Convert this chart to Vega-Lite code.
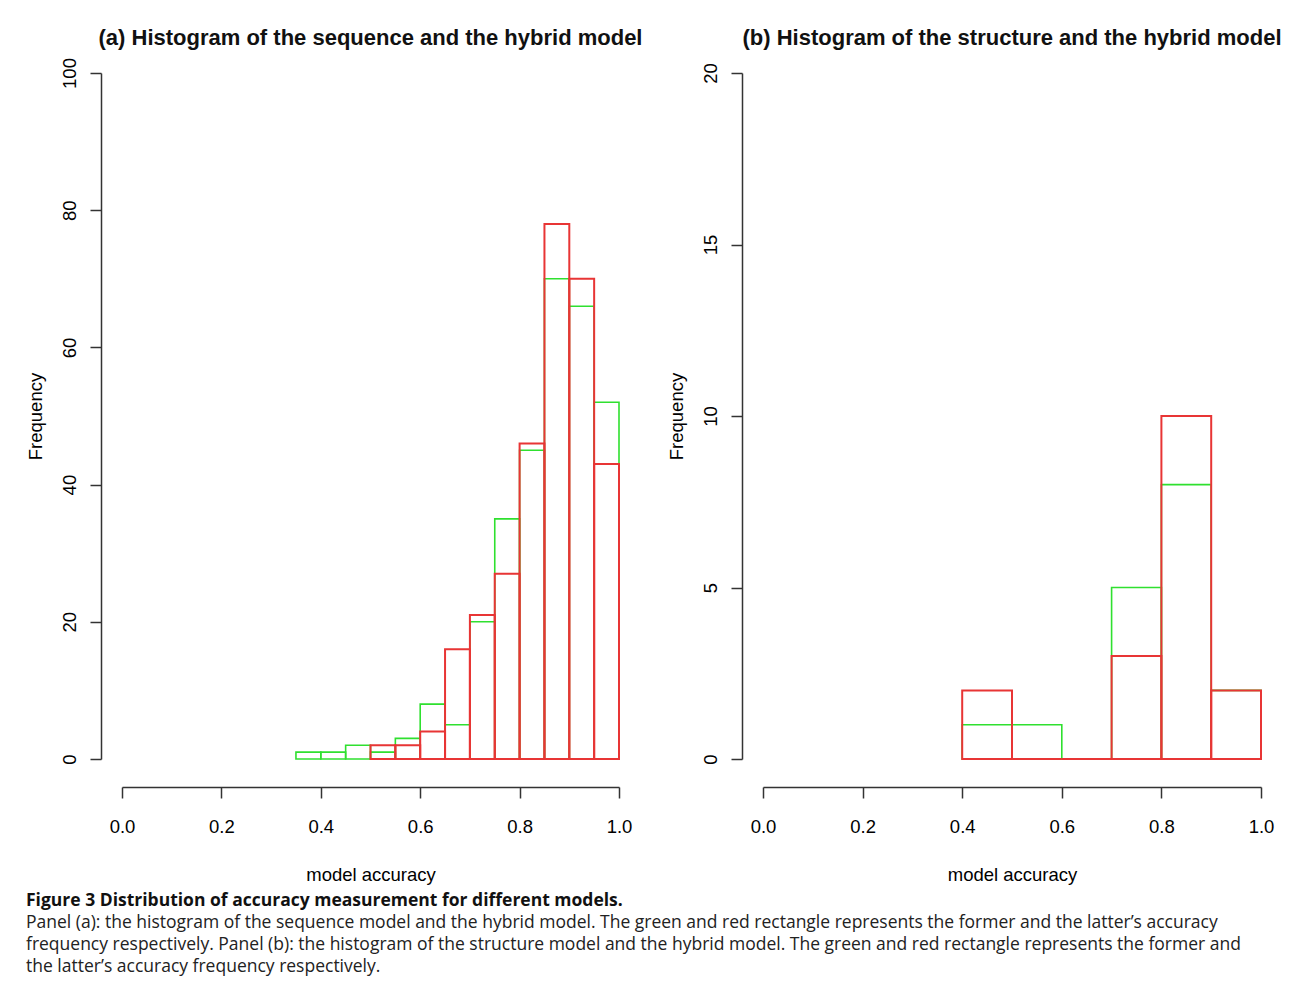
{
  "$schema": "https://vega.github.io/schema/vega-lite/v6.json",
  "background": "white",
  "padding": {"left": 26, "top": 26, "right": 5, "bottom": 2},
  "datasets": {
    "panelA": [
      {"model": "sequence", "bin_start": 0.35, "bin_end": 0.40, "count": 1},
      {"model": "sequence", "bin_start": 0.40, "bin_end": 0.45, "count": 1},
      {"model": "sequence", "bin_start": 0.45, "bin_end": 0.50, "count": 2},
      {"model": "sequence", "bin_start": 0.50, "bin_end": 0.55, "count": 1},
      {"model": "sequence", "bin_start": 0.55, "bin_end": 0.60, "count": 3},
      {"model": "sequence", "bin_start": 0.60, "bin_end": 0.65, "count": 8},
      {"model": "sequence", "bin_start": 0.65, "bin_end": 0.70, "count": 5},
      {"model": "sequence", "bin_start": 0.70, "bin_end": 0.75, "count": 20},
      {"model": "sequence", "bin_start": 0.75, "bin_end": 0.80, "count": 35},
      {"model": "sequence", "bin_start": 0.80, "bin_end": 0.85, "count": 45},
      {"model": "sequence", "bin_start": 0.85, "bin_end": 0.90, "count": 70},
      {"model": "sequence", "bin_start": 0.90, "bin_end": 0.95, "count": 66},
      {"model": "sequence", "bin_start": 0.95, "bin_end": 1.00, "count": 52},
      {"model": "hybrid", "bin_start": 0.50, "bin_end": 0.55, "count": 2},
      {"model": "hybrid", "bin_start": 0.55, "bin_end": 0.60, "count": 2},
      {"model": "hybrid", "bin_start": 0.60, "bin_end": 0.65, "count": 4},
      {"model": "hybrid", "bin_start": 0.65, "bin_end": 0.70, "count": 16},
      {"model": "hybrid", "bin_start": 0.70, "bin_end": 0.75, "count": 21},
      {"model": "hybrid", "bin_start": 0.75, "bin_end": 0.80, "count": 27},
      {"model": "hybrid", "bin_start": 0.80, "bin_end": 0.85, "count": 46},
      {"model": "hybrid", "bin_start": 0.85, "bin_end": 0.90, "count": 78},
      {"model": "hybrid", "bin_start": 0.90, "bin_end": 0.95, "count": 70},
      {"model": "hybrid", "bin_start": 0.95, "bin_end": 1.00, "count": 43}
    ],
    "panelB": [
      {"model": "structure", "bin_start": 0.4, "bin_end": 0.5, "count": 1},
      {"model": "structure", "bin_start": 0.5, "bin_end": 0.6, "count": 1},
      {"model": "structure", "bin_start": 0.6, "bin_end": 0.7, "count": 0},
      {"model": "structure", "bin_start": 0.7, "bin_end": 0.8, "count": 5},
      {"model": "structure", "bin_start": 0.8, "bin_end": 0.9, "count": 8},
      {"model": "structure", "bin_start": 0.9, "bin_end": 1.0, "count": 2},
      {"model": "hybrid", "bin_start": 0.4, "bin_end": 0.5, "count": 2},
      {"model": "hybrid", "bin_start": 0.5, "bin_end": 0.6, "count": 0},
      {"model": "hybrid", "bin_start": 0.6, "bin_end": 0.7, "count": 0},
      {"model": "hybrid", "bin_start": 0.7, "bin_end": 0.8, "count": 3},
      {"model": "hybrid", "bin_start": 0.8, "bin_end": 0.9, "count": 10},
      {"model": "hybrid", "bin_start": 0.9, "bin_end": 1.0, "count": 2}
    ]
  },
  "title": {
    "text": "Figure 3 Distribution of accuracy measurement for different models.",
    "subtitle": [
      "Panel (a): the histogram of the sequence model and the hybrid model. The green and red rectangle represents the former and the latter’s accuracy",
      "frequency respectively. Panel (b): the histogram of the structure model and the hybrid model. The green and red rectangle represents the former and",
      "the latter’s accuracy frequency respectively."
    ],
    "orient": "bottom",
    "anchor": "start",
    "frame": "bounds",
    "offset": 8,
    "font": "Open Sans",
    "fontSize": 17.5,
    "fontWeight": "bold",
    "color": "#111111",
    "subtitleFont": "Open Sans",
    "subtitleFontSize": 17.5,
    "subtitleFontWeight": "normal",
    "subtitleColor": "#222222",
    "subtitlePadding": 4,
    "subtitleLineHeight": 22
  },
  "spacing": 24,
  "hconcat": [
    {
      "width": 497,
      "height": 686,
      "title": {"text": "(a) Histogram of the sequence and the hybrid model", "offset": 8},
      "data": {"name": "panelA"},
      "encoding": {
        "x": {
          "field": "bin_start", "type": "quantitative", "title": "model accuracy",
          "scale": {"domain": [0, 1], "nice": false, "zero": false},
          "axis": {"values": [0, 0.2, 0.4, 0.6, 0.8, 1.0], "format": ".1f", "offset": 28}
        },
        "x2": {"field": "bin_end"},
        "y": {
          "field": "count", "type": "quantitative", "title": "Frequency",
          "scale": {"domain": [0, 100], "nice": false},
          "axis": {"values": [0, 20, 40, 60, 80, 100], "offset": 21}
        },
        "y2": {"datum": 0},
        "color": {
          "field": "model", "type": "nominal", "legend": null,
          "scale": {"domain": ["sequence", "structure", "hybrid"], "range": ["#2fe02f", "#2fe02f", "#e83535"]}
        }
      },
      "layer": [
        {
          "transform": [{"filter": "datum.model === 'sequence'"}],
          "mark": {"type": "rect", "filled": false, "strokeWidth": 1.6}
        },
        {
          "transform": [{"filter": "datum.model === 'hybrid'"}],
          "mark": {"type": "rect", "filled": false, "strokeWidth": 2.0}
        }
      ]
    },
    {
      "width": 498,
      "height": 686,
      "title": {"text": "(b) Histogram of the structure and the hybrid model", "offset": 13},
      "data": {"name": "panelB"},
      "encoding": {
        "x": {
          "field": "bin_start", "type": "quantitative", "title": "model accuracy",
          "scale": {"domain": [0, 1], "nice": false, "zero": false},
          "axis": {"values": [0, 0.2, 0.4, 0.6, 0.8, 1.0], "format": ".1f", "offset": 28}
        },
        "x2": {"field": "bin_end"},
        "y": {
          "field": "count", "type": "quantitative", "title": "Frequency",
          "scale": {"domain": [0, 20], "nice": false},
          "axis": {"values": [0, 5, 10, 15, 20], "offset": 21}
        },
        "y2": {"datum": 0},
        "color": {
          "field": "model", "type": "nominal", "legend": null,
          "scale": {"domain": ["sequence", "structure", "hybrid"], "range": ["#2fe02f", "#2fe02f", "#e83535"]}
        }
      },
      "layer": [
        {
          "transform": [{"filter": "datum.model === 'structure'"}],
          "mark": {"type": "rect", "filled": false, "strokeWidth": 1.6}
        },
        {
          "transform": [{"filter": "datum.model === 'hybrid'"}],
          "mark": {"type": "rect", "filled": false, "strokeWidth": 2.0}
        }
      ]
    }
  ],
  "config": {
    "view": {"stroke": null},
    "title": {
      "font": "Liberation Sans",
      "fontSize": 22,
      "fontWeight": "bold",
      "color": "#111111",
      "anchor": "middle"
    },
    "axis": {
      "grid": false,
      "labelFlush": false,
      "domainColor": "#333333",
      "domainWidth": 1.5,
      "tickColor": "#333333",
      "tickWidth": 1.5,
      "tickSize": 11,
      "labelFont": "Liberation Sans",
      "labelFontSize": 18.5,
      "labelColor": "#000000",
      "titleFont": "Liberation Sans",
      "titleFontSize": 18.5,
      "titleFontWeight": "normal",
      "titleColor": "#000000"
    },
    "axisX": {
      "labelPadding": 19,
      "titlePadding": 30
    },
    "axisY": {
      "labelAngle": -90,
      "labelAlign": "center",
      "labelBaseline": "bottom",
      "labelPadding": 11,
      "titlePadding": 15
    }
  }
}
